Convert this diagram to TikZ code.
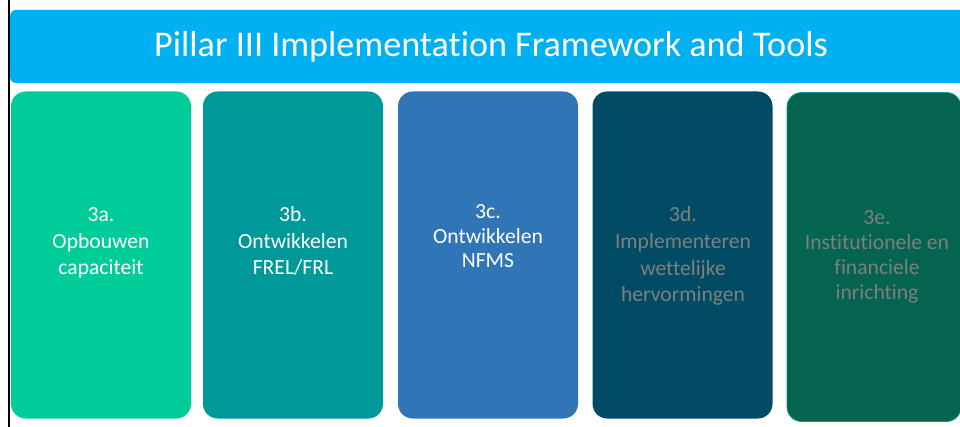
\documentclass[tikz,border=0pt]{standalone}
\usepackage{fontspec}
\setmainfont{Carlito}[Ligatures=NoCommon]
\definecolor{titleblue}{HTML}{00B0F0}
\definecolor{cA}{HTML}{00CC99}
\definecolor{cB}{HTML}{009999}
\definecolor{cC}{HTML}{3075B5}
\definecolor{cD}{HTML}{024B64}
\definecolor{cE}{HTML}{046450}
\definecolor{graytxt}{HTML}{7F7F7F}
\tikzset{
  pillarbox/.style={rounded corners=11pt, inner sep=0pt, minimum width=135pt, minimum height=245.25pt},
  boxtext/.style={align=center, font=\fontsize{16.2}{20}\selectfont, inner sep=0pt, anchor=base},
}
\begin{document}
\begin{tikzpicture}[x=0.75pt,y=-0.75pt]
\useasboundingbox (0,0) rectangle (960,427);
\fill[white] (0,0) rectangle (960,427);
% title bar
\fill[titleblue, rounded corners=4.5pt] (10,10) rectangle (985,83);
\node[text=white, font=\fontsize{27.1}{33}\selectfont, anchor=base] (title) at (491,57) {Pillar III Implementation Framework and Tools};
% boxes
\node[pillarbox, fill=cA] (b1) at (101,255) {};
\node[pillarbox, fill=cB] (b2) at (293,255) {};
\node[pillarbox, fill=cC] (b3) at (488,255) {};
\node[pillarbox, fill=cD] (b4) at (682.5,255) {};
\node[pillarbox, fill=cE, draw=cB, line width=0.6pt, minimum width=130.5pt, minimum height=246.75pt] (b5) at (874,257) {};
% texts (anchor = baseline of last line)
\node[boxtext, text=white] (t1) at (101,275) {3a.\\Opbouwen\\capaciteit};
\node[boxtext, text=white] (t2) at (293,275) {3b.\\Ontwikkelen\\FREL/FRL};
\node[boxtext, text=white, font=\fontsize{16.2}{18.4}\selectfont] (t3) at (488,268) {3c.\\Ontwikkelen\\NFMS};
\node[boxtext, text=graytxt] (t4) at (683,302) {3d.\\Implementeren\\wettelijke\\hervormingen};
\node[boxtext, text=graytxt, font=\fontsize{16.2}{18.8}\selectfont] (t5) at (877,300) {3e.\\Institutionele en\\financiele\\inrichting};
% left black line
\draw[black, line width=1.5pt] (9,0) -- (9,427);
\end{tikzpicture}
\end{document}
